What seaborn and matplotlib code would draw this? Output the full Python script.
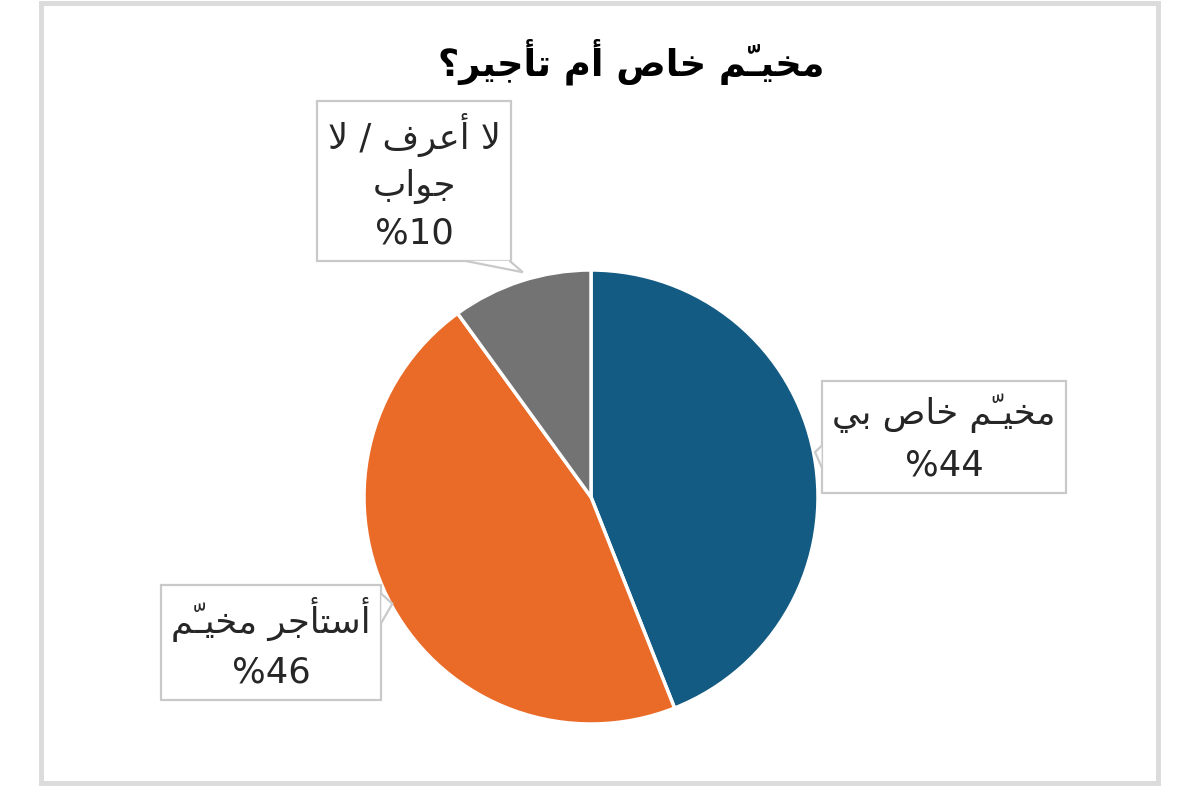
import matplotlib
matplotlib.use("Agg")
import matplotlib.pyplot as plt
import seaborn as sns
from matplotlib.patches import Rectangle, Polygon
from matplotlib.transforms import IdentityTransform

# ---- data ----
title = "مخيّم خاص أم تأجير؟"
labels = ["مخيّم خاص بي", "أستأجر مخيّم", "لا أعرف / لا\nجواب"]
values = [44, 46, 10]
colors = ["#135b82", "#ea6a27", "#737373"]

# matplotlib has no Arabic shaping: pick presentation forms and reverse by hand
FORMS = {
    "ا": ("\ufe8d", "\ufe8e", None, None),
    "أ": ("\ufe83", "\ufe84", None, None),
    "ب": ("\ufe8f", "\ufe90", "\ufe91", "\ufe92"),
    "ت": ("\ufe95", "\ufe96", "\ufe97", "\ufe98"),
    "ج": ("\ufe9d", "\ufe9e", "\ufe9f", "\ufea0"),
    "خ": ("\ufea5", "\ufea6", "\ufea7", "\ufea8"),
    "ر": ("\ufead", "\ufeae", None, None),
    "س": ("\ufeb1", "\ufeb2", "\ufeb3", "\ufeb4"),
    "ص": ("\ufeb9", "\ufeba", "\ufebb", "\ufebc"),
    "ع": ("\ufec9", "\ufeca", "\ufecb", "\ufecc"),
    "ف": ("\ufed1", "\ufed2", "\ufed3", "\ufed4"),
    "ل": ("\ufedd", "\ufede", "\ufedf", "\ufee0"),
    "م": ("\ufee1", "\ufee2", "\ufee3", "\ufee4"),
    "و": ("\ufeed", "\ufeee", None, None),
    "ي": ("\ufef1", "\ufef2", "\ufef3", "\ufef4"),
    "لا": ("\ufefb", "\ufefc", None, None),
    "لأ": ("\ufef7", "\ufef8", None, None),
}
SHADDA = "\u0651"


def shape_line(text):
    seq = []
    for ch in text:
        if ch == SHADDA and seq:
            seq[-1][1] = True
        elif seq and seq[-1][0] == "ل" and ch in "اأ":
            seq[-1][0] += ch
        else:
            seq.append([ch, False])
    out = []
    for i, (ch, mk) in enumerate(seq):
        forms = FORMS.get(ch)
        if forms is None:
            out.append(ch)
            continue
        prev = seq[i - 1][0] if i > 0 else None
        nxt = seq[i + 1][0] if i + 1 < len(seq) else None
        jp = prev in FORMS and FORMS[prev][2] is not None
        jn = nxt in FORMS and forms[2] is not None
        if jp and jn:
            f = forms[3]
        elif jp:
            f = forms[1]
        elif jn:
            f = forms[2]
        else:
            f = forms[0]
        out.append(f)
        if mk:
            # spacing shadda (tatweel + shadda) keeps the join and sits visibly
            out.append("\ufe7d" if jn else SHADDA)
    return "".join(reversed(out))


def shape(text):
    return "\n".join(shape_line(t) for t in text.split("\n"))


sns.set_theme(style="white")
plt.rcParams["font.family"] = ["DejaVu Sans"]

fig = plt.figure(figsize=(12, 7.86), dpi=100)
fig.patch.set_facecolor("white")

# outer frame
fig.add_artist(Rectangle((41 / 1200, 3 / 786), 1117 / 1200, 780 / 786, transform=fig.transFigure,
                         fill=False, edgecolor="#dcdcdc", linewidth=3.6))

ax = fig.add_axes([(591 - 227) / 1200, (289 - 227) / 786, 454 / 1200, 454 / 786])
wedges, _ = ax.pie(values, colors=colors, startangle=90, counterclock=False,
                   wedgeprops=dict(edgecolor="white", linewidth=2.5))
ax.set_xlim(-1, 1)
ax.set_ylim(-1, 1)
ax.axis("off")

fig.text(631 / 1200, 1 - 62 / 786, shape(title), ha="center", va="center",
         fontsize=26.5, fontweight="bold", color="black")

edge_col = "#c9c9c9"
box = dict(boxstyle="square,pad=0.3", fc="white", ec=edge_col, lw=1.6)

# label positions relative to the pie (pie radius = 1)
label_pos = [(1.555, 0.26), (-1.41, -0.645), (-0.778, 1.39)]
# callout tab: box side, start/end fraction along that side, tip (pie coords)
tabs = [("left", 0.58, 0.77, (0.987, 0.198)),
        ("right", 0.08, 0.33, (-0.875, -0.47)),
        ("bottom", 0.76, 0.99, (-0.30, 0.99))]
spacing = [1.55, 1.5, 1.45]

texts = []
for lab, v, (tx, ty), ls in zip(labels, values, label_pos, spacing):
    t = ax.text(tx, ty, shape(lab) + "\n%" + str(v), ha="center", va="center",
                fontsize=25.5, color="#262626", linespacing=ls, bbox=box, clip_on=False)
    texts.append(t)

fig.canvas.draw()
for t, (side, f0, f1, tip) in zip(texts, tabs):
    bb = t.get_bbox_patch().get_window_extent()
    tipx, tipy = ax.transData.transform(tip)
    if side == "left":
        p0 = (bb.x0, bb.y1 - f0 * bb.height)
        p1 = (bb.x0, bb.y1 - f1 * bb.height)
    elif side == "right":
        p0 = (bb.x1, bb.y1 - f0 * bb.height)
        p1 = (bb.x1, bb.y1 - f1 * bb.height)
    else:
        p0 = (bb.x0 + f0 * bb.width, bb.y0)
        p1 = (bb.x0 + f1 * bb.width, bb.y0)
    fig.add_artist(Polygon([p0, (tipx, tipy), p1], closed=False, fc="white", ec=edge_col,
                           lw=1.6, transform=IdentityTransform(), zorder=5))

fig.savefig("out.png", dpi=100, facecolor="white")
